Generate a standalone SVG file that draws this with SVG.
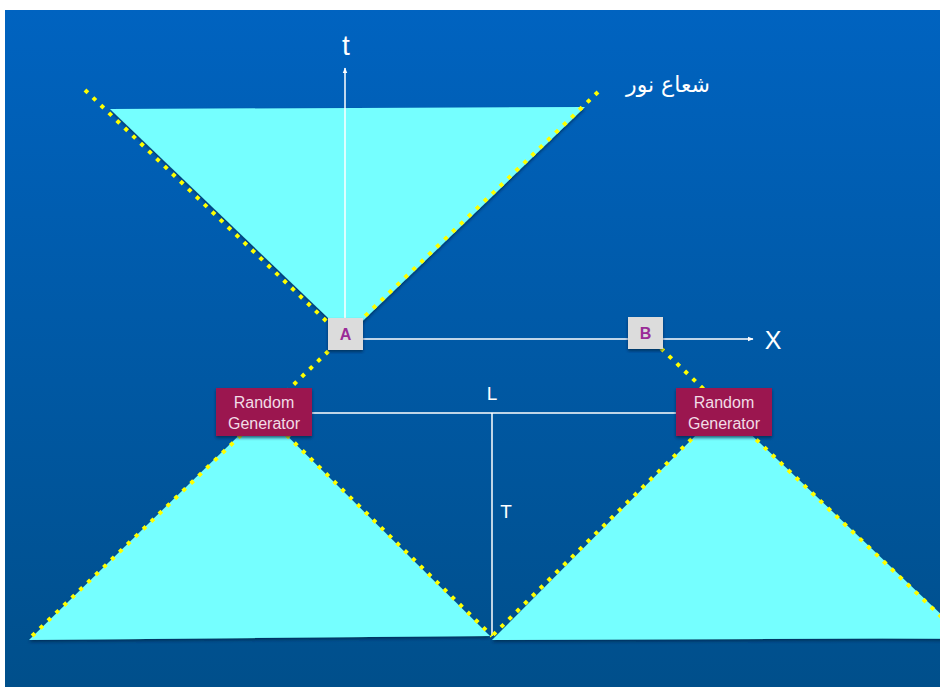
<svg xmlns="http://www.w3.org/2000/svg" width="940" height="687" viewBox="0 0 940 687">
<defs>
<linearGradient id="bg" x1="0" y1="0" x2="0" y2="1">
<stop offset="0" stop-color="#0063C0"/>
<stop offset="1" stop-color="#004F8B"/>
</linearGradient>
<filter id="sh" x="-10%" y="-10%" width="120%" height="120%">
<feDropShadow dx="0" dy="2" stdDeviation="1.5" flood-color="#002244" flood-opacity="0.7"/>
</filter>
<marker id="arr" viewBox="0 0 10 10" refX="9" refY="5" markerWidth="6" markerHeight="6" orient="auto" markerUnits="userSpaceOnUse">
<path d="M0,1 L10,5 L0,9 z" fill="#FFFFFF"/>
</marker>
<style>
.cone{fill:#75FFFF;filter:url(#sh)}
.dot{stroke:#FFFF00;stroke-width:4;stroke-dasharray:4 7;fill:none}
.ax{stroke:#FFFFFF;stroke-width:1.5;fill:none}
.pt{fill:#DCDCDC;filter:url(#sh)}
.ptl{font-family:"Liberation Sans",Arial,sans-serif;font-weight:bold;font-size:16px;fill:#9A2C97;text-anchor:middle}
.rg{fill:#9B1850;filter:url(#sh)}
.rgt{font-family:"Liberation Sans",Arial,sans-serif;font-size:16px;fill:#F2DCE6;text-anchor:middle}
.lbl{font-family:"Liberation Sans",Arial,sans-serif;fill:#FFFFFF;text-anchor:middle}
</style>
</defs>
<rect x="0" y="0" width="940" height="687" fill="#FFFFFF"/>
<rect x="5" y="10" width="935" height="677" fill="url(#bg)"/>
<g id="cones">
<polygon class="cone" points="110,109 585,107 347,336"/>
<polygon class="cone" points="29,640 490,636 263,412"/>
<polygon class="cone" points="492,640 1000,638 1000,670 723,408"/>
</g>
<g id="connectors">
<line class="ax" x1="345" y1="320" x2="345" y2="68" marker-end="url(#arr)"/>
<line class="ax" x1="345" y1="339" x2="753" y2="339" marker-end="url(#arr)"/>
<line class="ax" x1="312" y1="413" x2="676" y2="413"/>
<line class="ax" x1="492" y1="413" x2="492" y2="636"/>
<line class="dot" x1="85" y1="90" x2="345" y2="339"/>
<line class="dot" x1="598" y1="92" x2="30" y2="638"/>
<line class="dot" x1="645" y1="333" x2="950" y2="625"/>
<line class="dot" x1="263" y1="412" x2="492" y2="636"/>
<line class="dot" x1="723" y1="408" x2="492" y2="636"/>
</g>
<g id="A">
<rect class="pt" x="328" y="318" width="35" height="32"/>
<text class="ptl" x="345.5" y="340">A</text>
</g>
<g id="B">
<rect class="pt" x="628" y="317" width="35" height="32"/>
<text class="ptl" x="645.5" y="339">B</text>
</g>
<g id="rg-left">
<rect class="rg" x="216" y="388" width="96" height="48"/>
<text class="rgt" x="264" y="408">Random</text>
<text class="rgt" x="264" y="429">Generator</text>
</g>
<g id="rg-right">
<rect class="rg" x="676" y="388" width="96" height="48"/>
<text class="rgt" x="724" y="408">Random</text>
<text class="rgt" x="724" y="429">Generator</text>
</g>
<g id="labels">
<text class="lbl" x="346" y="55" font-size="28">t</text>
<text class="lbl" x="773" y="349" font-size="25">X</text>
<text class="lbl" x="492" y="400" font-size="19">L</text>
<text class="lbl" x="506" y="518" font-size="19">T</text>
<text x="710" y="92" font-family="'DejaVu Sans','Noto Sans',sans-serif" font-size="22" fill="#FFFFFF" text-anchor="end">شعاع نور</text>
</g>
</svg>
